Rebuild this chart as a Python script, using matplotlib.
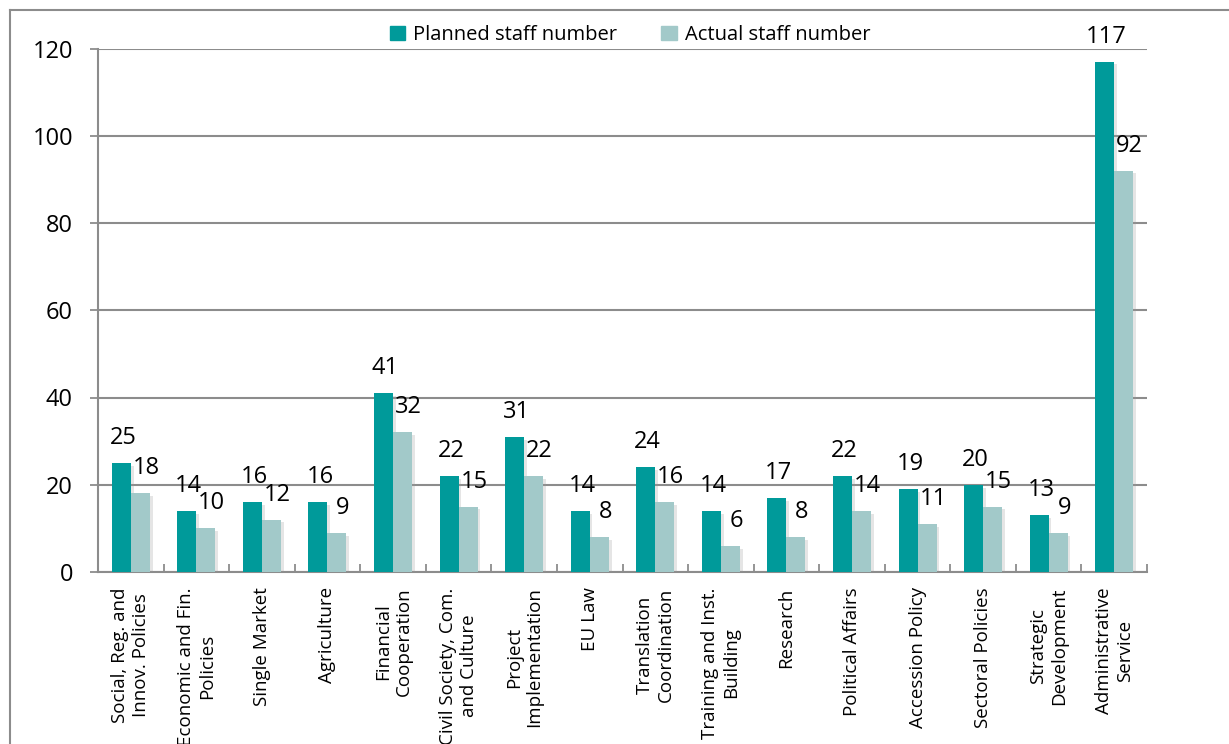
import matplotlib
matplotlib.use("Agg")
import matplotlib.pyplot as plt
import numpy as np
from matplotlib.patches import Patch
from matplotlib.lines import Line2D
import matplotlib.patheffects as pe

plt.rcParams['font.family'] = ['Open Sans', 'DejaVu Sans']

categories = [
    "Social, Reg. and\nInnov. Policies",
    "Economic and Fin.\nPolicies",
    "Single Market",
    "Agriculture",
    "Financial\nCooperation",
    "Civil Society, Com.\nand Culture",
    "Project\nImplementation",
    "EU Law",
    "Translation\nCoordination",
    "Training and Inst.\nBuilding",
    "Research",
    "Political Affairs",
    "Accession Policy",
    "Sectoral Policies",
    "Strategic\nDevelopment",
    "Administrative\nService",
]
planned = [25, 14, 16, 16, 41, 22, 31, 14, 24, 14, 17, 22, 19, 20, 13, 117]
actual = [18, 10, 12, 9, 32, 15, 22, 8, 16, 6, 8, 14, 11, 15, 9, 92]
yticks = [0, 20, 40, 60, 80, 100, 120]

C_PLAN = "#009A9A"
C_ACT = "#A2C9C9"
GRID = "#8C8C8C"

W, H = 1229, 744
fig = plt.figure(figsize=(W / 100, H / 100), dpi=100)
ax = fig.add_axes([98 / W, 1 - 572 / H, (1147 - 98) / W, (572 - 48.5) / H])

x = np.arange(len(categories))
bw = 0.29
shadow = [pe.SimplePatchShadow(offset=(2, -2), shadow_rgbFace="#999999", alpha=0.25), pe.Normal()]
ax.bar(x - bw / 2, planned, bw, color=C_PLAN, zorder=3, path_effects=shadow)
ax.bar(x + bw / 2, actual, bw, color=C_ACT, zorder=3, path_effects=shadow)

for xi, v in zip(x, planned):
    ax.annotate(str(v), (xi - bw / 2, v), xytext=(2, 13), textcoords="offset pixels",
                ha="center", va="bottom", fontsize=17, color="black")
for xi, v in zip(x, actual):
    ax.annotate(str(v), (xi + bw / 2, v), xytext=(6, 13), textcoords="offset pixels",
                ha="center", va="bottom", fontsize=17, color="black")

ax.set_xlim(-0.5, len(categories) - 0.5)
ax.set_ylim(0, 120)
ax.set_yticks(yticks)
ax.tick_params(axis="y", length=6, width=1.3, color=GRID, pad=12, labelsize=17)
ax.yaxis.grid(True, color=GRID, linewidth=1.5, zorder=0)
ax.set_axisbelow(True)

# category separators on the x axis, labels centred between them
ax.set_xticks(np.arange(len(categories) + 1) - 0.5)
ax.set_xticklabels([])
ax.tick_params(axis="x", which="major", direction="in", length=6, width=1.3, color=GRID)
ax.set_xticks(x, minor=True)
ax.set_xticklabels(categories, minor=True, rotation=90, ha="center", va="top",
                   multialignment="center", fontsize=13.5, linespacing=1.2)
ax.tick_params(axis="x", which="minor", length=0, pad=11)

for s in ["top", "right"]:
    ax.spines[s].set_visible(False)
for s in ["left", "bottom"]:
    ax.spines[s].set_color(GRID)
    ax.spines[s].set_linewidth(1.5)

handles = [Patch(color=C_PLAN, label="Planned staff number"),
           Patch(color=C_ACT, label="Actual staff number")]
fig.legend(handles=handles, loc="center", bbox_to_anchor=(630 / W, 1 - 35 / H), ncol=2,
           frameon=False, fontsize=14.5, handlelength=0.75, handleheight=0.75,
           handletextpad=0.4, columnspacing=2.2)

# outer chart frame
fig.add_artist(Line2D([10 / W, 10 / W], [0, 1 - 10 / H], color=GRID, linewidth=1.5,
                      transform=fig.transFigure))
fig.add_artist(Line2D([10 / W, 1], [1 - 10 / H, 1 - 10 / H], color=GRID, linewidth=1.5,
                      transform=fig.transFigure))

fig.savefig("out.png", dpi=100)
